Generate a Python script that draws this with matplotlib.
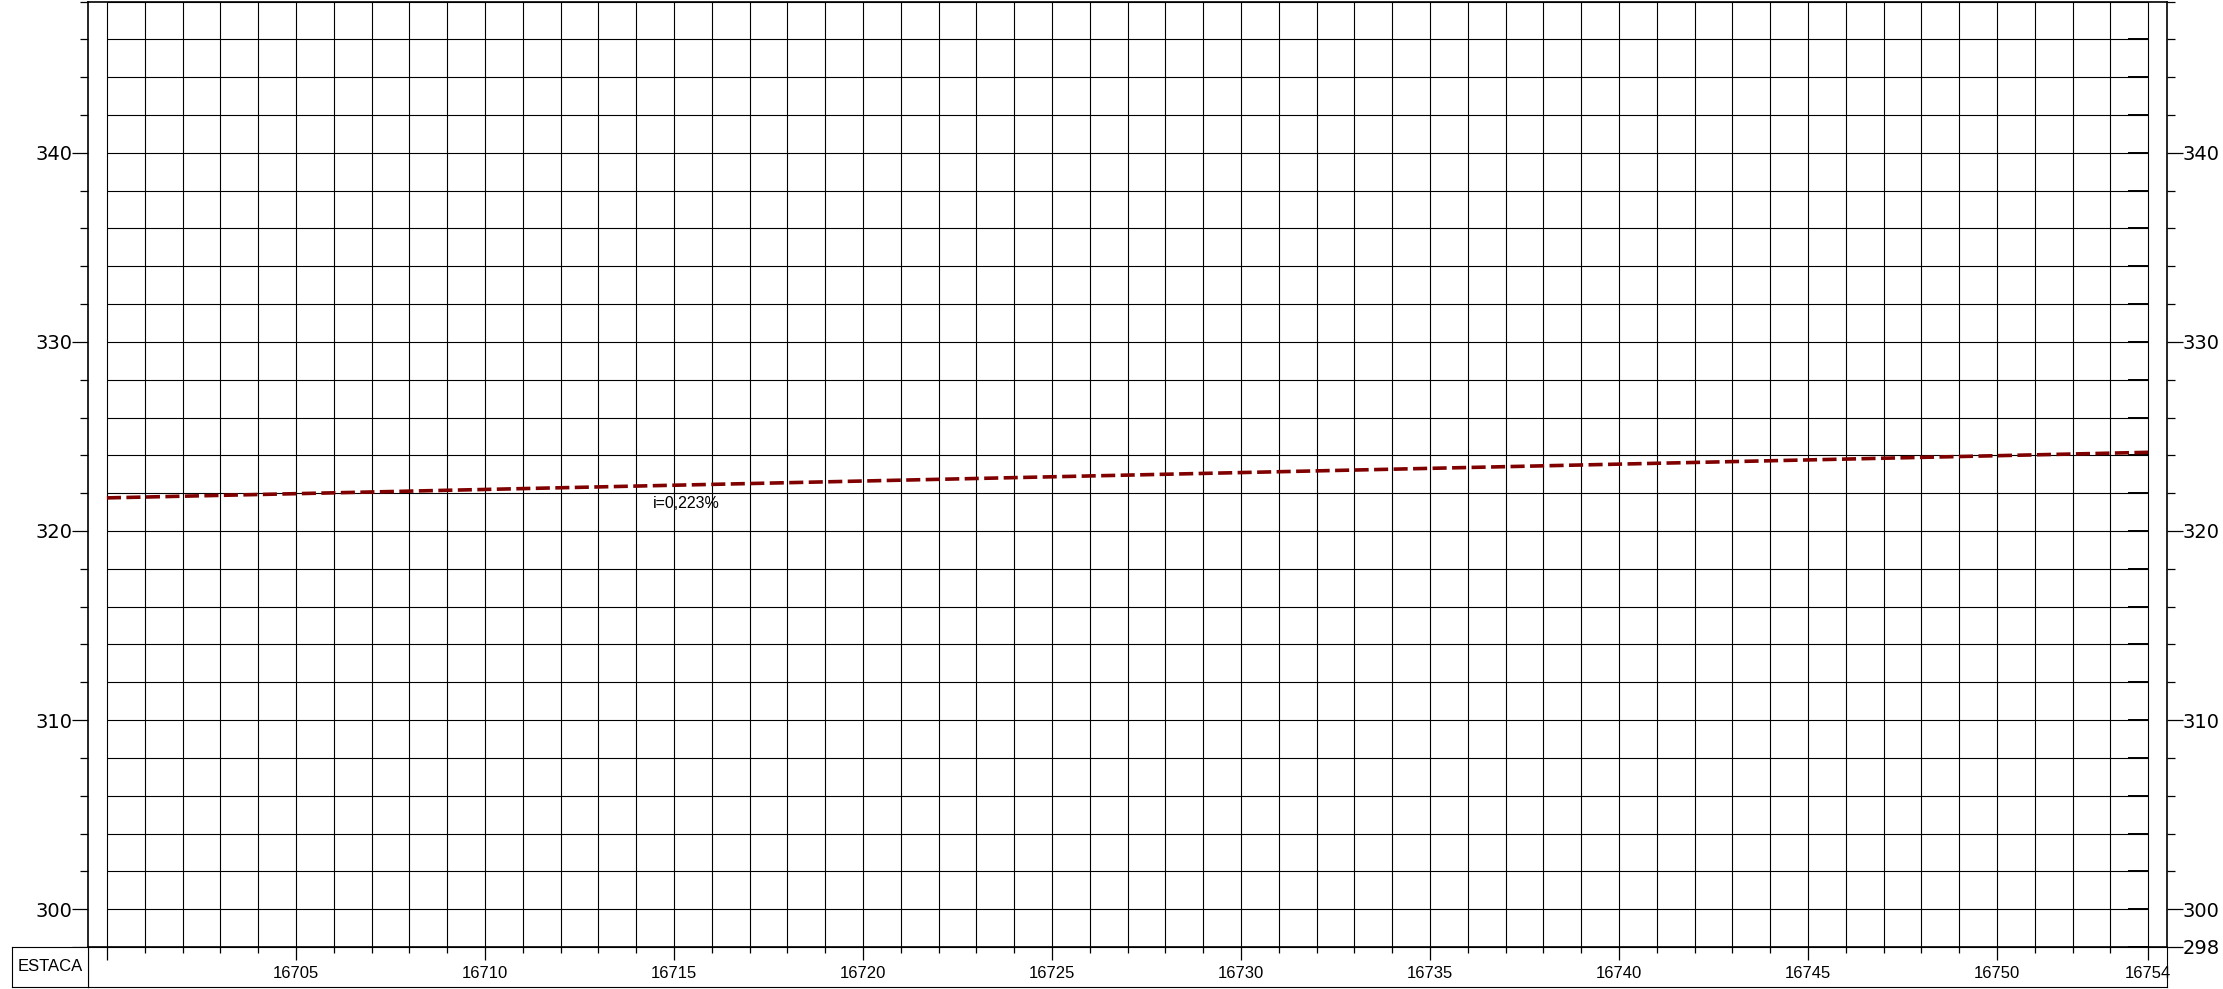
from matplotlib import pyplot as plt
from matplotlib.ticker import MultipleLocator

# perfil longitudinal - greide
estacas = [16700, 16754]
cotas = [321.75, 324.16]
rampa = "i=0,223%"

x_min, x_max = 16700, 16754
y_min, y_max = 298, 348
y_labels = [298, 300, 310, 320, 330, 340]
x_labels = [16705, 16710, 16715, 16720, 16725, 16730, 16735, 16740, 16745, 16750, 16754]

W, H = 2223, 989
fig = plt.figure(figsize=(W / 100, H / 100), dpi=100)

def box(l, b, w, h):
    return fig.add_axes([l / W, b / H, w / W, h / H])

ax = box(88, 42, 2079, 945.5)
ax.set_xlim(x_min - 0.5, x_max + 0.5)
ax.set_ylim(y_min, y_max)

# malha
xs = list(range(x_min, x_max + 1))
ys = list(range(y_min, y_max + 1, 2))
ax.vlines(xs, y_min, y_max, colors='black', linewidth=0.8, zorder=1)
ax.hlines(ys, x_min, x_max, colors='black', linewidth=0.8, zorder=1)
ax.hlines(ys, x_max - 0.53, x_max, colors='black', linewidth=1.4, zorder=1)

# greide
ax.plot(estacas, cotas, color='#800000', linewidth=2.6,
        linestyle=(0, (3.9, 1.5)), zorder=3)
ax.text(16714.44, 321.43, rampa, fontsize=11.5, family='Liberation Sans',
        ha='left', va='center')

for s in ['top', 'bottom', 'left', 'right']:
    ax.spines[s].set_linewidth(1.2)
ax.set_xticks([])
ax.set_yticks(y_labels)
ax.set_yticklabels([''] + [str(v) for v in y_labels[1:]])
ax.yaxis.set_minor_locator(MultipleLocator(2))
ax.tick_params(axis='y', which='major', length=11.5, width=0.9, pad=0,
               labelsize=14, direction='out')
ax.tick_params(axis='y', which='minor', length=5.8, width=0.9, direction='out')

ax2 = ax.twinx()
ax2.set_ylim(y_min, y_max)
ax2.set_yticks(y_labels)
ax2.set_yticklabels([str(v) for v in y_labels])
ax2.yaxis.set_minor_locator(MultipleLocator(2))
ax2.tick_params(axis='y', which='major', length=11.5, width=0.9, pad=0,
                labelsize=14, direction='out')
ax2.tick_params(axis='y', which='minor', length=5.8, width=0.9, direction='out')
for s in ['top', 'bottom', 'left', 'right']:
    ax2.spines[s].set_visible(False)

# faixa ESTACA
band = box(88, 2, 2079, 40)
band.set_xlim(x_min - 0.5, x_max + 0.5)
band.set_ylim(0, 1)
band.set_yticks([])
band.set_xticks(list(range(x_min, 16751, 5)) + [16754])
band.xaxis.set_minor_locator(MultipleLocator(1))
band.tick_params(axis='x', which='both', top=True, bottom=False,
                 labelbottom=False, direction='in', width=0.9)
band.tick_params(axis='x', which='major', length=9.5)
band.tick_params(axis='x', which='minor', length=4.5)
for v in x_labels:
    band.text(v, 0.33, str(v), ha='center', va='center', fontsize=12,
              family='Liberation Sans')

lab = box(12, 2, 76, 40)
lab.set_xticks([])
lab.set_yticks([])
lab.text(0.5, 0.52, 'ESTACA', ha='center', va='center', fontsize=12,
         family='Liberation Sans', transform=lab.transAxes)

fig.savefig('out.png', dpi=100)
